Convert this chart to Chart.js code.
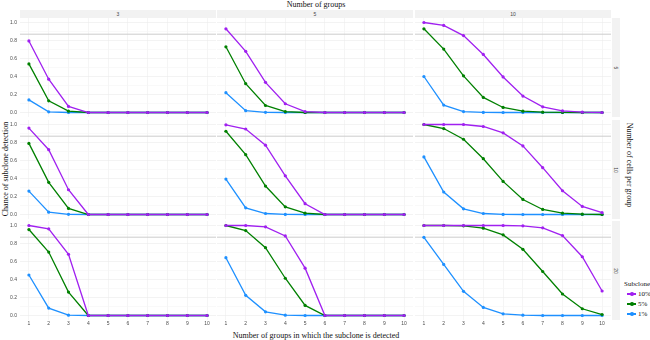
<!DOCTYPE html>
<html lang="en">
<head>
<meta charset="UTF-8">
<title>Subclone detection</title>
<script src="https://cdn.jsdelivr.net/npm/chart.js"></script>
<style>
  body { margin: 0; width: 650px; height: 340px; position: relative; background: #fff; overflow: hidden; font-family: "Liberation Serif", serif; color: #111; }
  canvas { position: absolute; }
  .strip { position: absolute; background: #f2f2f2; color: #444; font-family: "Liberation Sans", sans-serif; font-size: 5px; display: flex; align-items: center; justify-content: center; }
  .strip.side span { transform: rotate(90deg); display: block; }
  .title { position: absolute; font-size: 8px; white-space: nowrap; }
  .legend { position: absolute; left: 624px; top: 280px; font-size: 7px; }
  .legend .item { display: flex; align-items: center; height: 10px; }
  .legend .key { width: 9px; height: 1.3px; position: relative; margin-right: 2px; margin-left: 3px; }
  .legend .key i { position: absolute; left: 3px; top: -1.2px; width: 3.6px; height: 3.6px; border-radius: 50%; background: inherit; }
</style>
</head>
<body>

<div class="title" style="left:316px;top:4px;transform:translate(-50%,-50%)">Number of groups</div>
<div class="title" style="left:316px;top:335px;transform:translate(-50%,-50%)">Number of groups in which the subclone is detected</div>
<div class="title" style="left:5px;top:169px;transform:translate(-50%,-50%) rotate(-90deg)">Chance of subclone detection</div>
<div class="title" style="left:629px;top:165px;transform:translate(-50%,-50%) rotate(90deg)">Number of cells per group</div>
<div class="legend" id="legend">
  <div style="margin-bottom:1px">Subclone</div>
</div>

<script>
  // facets and axes
  const groups = [3, 5, 10];
  const cellsPerGroup = [5, 10, 20];
  const detectedIn = [1, 2, 3, 4, 5, 6, 7, 8, 9, 10];
  const subclones = ['10%', '5%', '1%'];
  const yTicks = [0, 0.1, 0.2, 0.3, 0.4, 0.5, 0.6, 0.7, 0.8, 0.9, 1.0];
  const threshold = 0.87;

  // 5 cells per group
  const c5g3_10 = [0.795, 0.37, 0.067, 0, 0, 0, 0, 0, 0, 0];
  const c5g3_5 = [0.54, 0.13, 0.015, 0, 0, 0, 0, 0, 0, 0];
  const c5g3_1 = [0.14, 0.007, 0, 0, 0, 0, 0, 0, 0, 0];
  const c5g5_10 = [0.93, 0.68, 0.335, 0.097, 0.01, 0, 0, 0, 0, 0];
  const c5g5_5 = [0.73, 0.32, 0.078, 0.01, 0, 0, 0, 0, 0, 0];
  const c5g5_1 = [0.22, 0.02, 0.002, 0, 0, 0, 0, 0, 0, 0];
  const c5g10_10 = [1.0, 0.967, 0.855, 0.645, 0.395, 0.183, 0.063, 0.018, 0.004, 0];
  const c5g10_5 = [0.93, 0.705, 0.407, 0.168, 0.056, 0.015, 0.004, 0.001, 0, 0];
  const c5g10_1 = [0.40, 0.082, 0.01, 0.001, 0, 0, 0, 0, 0, 0];

  // 10 cells per group
  const c10g3_10 = [0.96, 0.72, 0.275, 0, 0, 0, 0, 0, 0, 0];
  const c10g3_5 = [0.79, 0.357, 0.067, 0, 0, 0, 0, 0, 0, 0];
  const c10g3_1 = [0.26, 0.026, 0.002, 0, 0, 0, 0, 0, 0, 0];
  const c10g5_10 = [0.996, 0.95, 0.77, 0.43, 0.12, 0, 0, 0, 0, 0];
  const c10g5_5 = [0.925, 0.665, 0.316, 0.085, 0.015, 0, 0, 0, 0, 0];
  const c10g5_1 = [0.394, 0.074, 0.011, 0.001, 0, 0, 0, 0, 0, 0];
  const c10g10_10 = [1.0, 1.0, 1.0, 0.978, 0.907, 0.762, 0.52, 0.264, 0.09, 0.02];
  const c10g10_5 = [1.0, 0.955, 0.836, 0.62, 0.368, 0.167, 0.056, 0.015, 0.004, 0];
  const c10g10_1 = [0.64, 0.25, 0.063, 0.011, 0.001, 0, 0, 0, 0, 0];

  // 20 cells per group
  const c20g3_10 = [1.0, 0.963, 0.68, 0, 0, 0, 0, 0, 0, 0];
  const c20g3_5 = [0.955, 0.705, 0.26, 0, 0, 0, 0, 0, 0, 0];
  const c20g3_1 = [0.45, 0.082, 0.004, 0, 0, 0, 0, 0, 0, 0];
  const c20g5_10 = [1.0, 1.0, 0.985, 0.884, 0.526, 0, 0, 0, 0, 0];
  const c20g5_5 = [1.0, 0.944, 0.754, 0.414, 0.112, 0, 0, 0, 0, 0];
  const c20g5_1 = [0.642, 0.224, 0.041, 0.004, 0, 0, 0, 0, 0, 0];
  const c20g10_10 = [1.0, 1.0, 1.0, 1.0, 1.0, 0.996, 0.974, 0.888, 0.653, 0.272];
  const c20g10_5 = [1.0, 1.0, 0.996, 0.97, 0.896, 0.735, 0.489, 0.239, 0.075, 0.011];
  const c20g10_1 = [0.869, 0.567, 0.269, 0.09, 0.019, 0.004, 0, 0, 0, 0];

  const colores = ['#a020f0', '#008000', '#1e90ff'];

  // rows = cells per group, columns = number of groups
  const paineis = [
    [[c5g3_10, c5g3_5, c5g3_1], [c5g5_10, c5g5_5, c5g5_1], [c5g10_10, c5g10_5, c5g10_1]],
    [[c10g3_10, c10g3_5, c10g3_1], [c10g5_10, c10g5_5, c10g5_1], [c10g10_10, c10g10_5, c10g10_1]],
    [[c20g3_10, c20g3_5, c20g3_1], [c20g5_10, c20g5_5, c20g5_1], [c20g10_10, c20g10_5, c20g10_1]]
  ];

  // layout
  const colLeft = [20, 217, 415];
  const rowTop = [18, 120, 221];
  const panelW = 196;
  const panelH = 99;
  const yAxisW = 20;
  const xAxisH = 9;

  // linha horizontal de referencia
  const linhaRef = {
    id: 'linhaRef',
    beforeDatasetsDraw(chart) {
      const { ctx, chartArea, scales } = chart;
      const y = scales.y.getPixelForValue(threshold);
      ctx.save();
      ctx.strokeStyle = '#cccccc';
      ctx.lineWidth = 1;
      ctx.beginPath();
      ctx.moveTo(chartArea.left, y);
      ctx.lineTo(chartArea.right, y);
      ctx.stroke();
      ctx.restore();
    }
  };

  function strip(left, top, w, h, texto, lado) {
    const d = document.createElement('div');
    d.className = 'strip' + (lado ? ' side' : '');
    d.style.left = left + 'px';
    d.style.top = top + 'px';
    d.style.width = w + 'px';
    d.style.height = h + 'px';
    d.innerHTML = '<span>' + texto + '</span>';
    document.body.appendChild(d);
  }

  for (let c = 0; c < 3; c++) strip(colLeft[c], 10, panelW, 7.5, groups[c], false);
  for (let r = 0; r < 3; r++) strip(612, rowTop[r], 8, panelH, cellsPerGroup[r], true);

  for (let r = 0; r < 3; r++) {
    for (let c = 0; c < 3; c++) {
      const esq = c == 0 ? yAxisW : 0;
      const baixo = r == 2 ? xAxisH : 0;
      const canvas = document.createElement('canvas');
      canvas.width = panelW + esq;
      canvas.height = panelH + baixo;
      canvas.style.left = (colLeft[c] - esq) + 'px';
      canvas.style.top = rowTop[r] + 'px';
      document.body.appendChild(canvas);

      const datasets = paineis[r][c].map((serie, i) => ({
        label: subclones[i],
        data: serie.map((v, k) => ({ x: detectedIn[k], y: v })),
        borderColor: colores[i],
        backgroundColor: colores[i],
        borderWidth: 1.3,
        pointRadius: 1.6,
        pointBorderWidth: 0,
        tension: 0,
        clip: 4
      }));

      new Chart(canvas, {
        type: 'line',
        data: { datasets: datasets },
        plugins: [linhaRef],
        options: {
          responsive: false,
          animation: false,
          devicePixelRatio: 1,
          layout: { padding: 0, autoPadding: false },
          plugins: { legend: { display: false }, tooltip: { enabled: false } },
          scales: {
            x: {
              type: 'linear',
              min: 0.55,
              max: 10.45,
              afterBuildTicks: (s) => { s.ticks = detectedIn.map(v => ({ value: v })); },
              afterFit: (s) => { s.height = baixo; s.paddingLeft = 0; s.paddingRight = 0; },
              ticks: { display: r == 2, autoSkip: false, maxRotation: 0, padding: 1, color: '#4d4d4d', font: { size: 5, family: 'Liberation Sans' } },
              grid: { color: '#eeeeee', lineWidth: 0.6, drawTicks: false },
              border: { display: false }
            },
            y: {
              min: -0.05,
              max: 1.05,
              afterBuildTicks: (s) => { s.ticks = yTicks.map(v => ({ value: v })); },
              afterFit: (s) => { s.width = esq; s.paddingTop = 0; s.paddingBottom = 0; },
              ticks: {
                display: c == 0,
                padding: 3,
                color: '#4d4d4d',
                font: { size: 5, family: 'Liberation Sans' },
                callback: (v) => (Math.round(v * 10) % 2 == 0 ? v.toFixed(1) : '')
              },
              grid: {
                color: (ctx) => (Math.round(ctx.tick.value * 10) % 2 == 0 ? '#ebebeb' : '#f5f5f5'),
                lineWidth: 0.6,
                drawTicks: false
              },
              border: { display: false }
            }
          }
        }
      });
    }
  }

  // legenda
  const legenda = document.getElementById('legend');
  subclones.forEach((s, i) => {
    const it = document.createElement('div');
    it.className = 'item';
    it.innerHTML = '<span class="key" style="background:' + colores[i] + '"><i></i></span>' + s;
    legenda.appendChild(it);
  });
</script>
</body>
</html>
